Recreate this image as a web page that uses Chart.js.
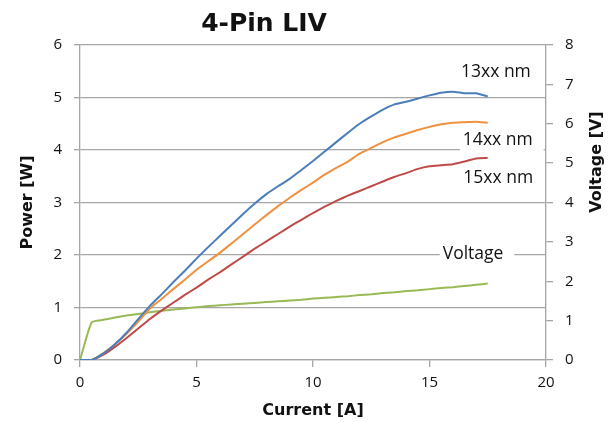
<!DOCTYPE html>
<html><head><meta charset="utf-8">
<script src="https://cdn.jsdelivr.net/npm/chart.js@4"></script>
<style>html,body{margin:0;padding:0;background:#fff}</style>
</head><body>
<canvas id="c" width="612" height="422"></canvas>
<script>
const chartTitle = '4-Pin LIV';
const xTitle = 'Current [A]';
const yTitle = 'Power [W]';
const y2Title = 'Voltage [V]';
const seriesNames = ['13xx nm', '14xx nm', '15xx nm', 'Voltage'];
const current = [0,0.5,1,1.5,2,2.5,3,3.5,4,4.5,5,5.5,6,6.5,7,7.5,8,8.5,9,9.5,10,10.5,11,11.5,12,12.5,13,13.5,14,14.5,15,15.5,16,16.5,17,17.5];
const power13xx = [0,0,0.12,0.3,0.52,0.78,1.03,1.25,1.48,1.7,1.93,2.15,2.36,2.57,2.78,2.98,3.16,3.31,3.45,3.62,3.79,3.97,4.15,4.33,4.5,4.64,4.77,4.87,4.92,4.98,5.04,5.09,5.11,5.08,5.08,5.02];
const power14xx = [0,0,0.13,0.3,0.5,0.73,0.98,1.16,1.35,1.53,1.72,1.88,2.04,2.22,2.4,2.58,2.76,2.93,3.09,3.24,3.38,3.53,3.66,3.78,3.93,4.04,4.15,4.24,4.31,4.38,4.44,4.49,4.52,4.53,4.54,4.52];
const power15xx = [0,0,0.1,0.25,0.42,0.6,0.78,0.94,1.09,1.24,1.38,1.53,1.67,1.82,1.97,2.12,2.26,2.4,2.54,2.67,2.8,2.92,3.03,3.13,3.22,3.31,3.4,3.49,3.56,3.64,3.69,3.71,3.73,3.78,3.84,3.85];
const voltage = [0,0.96,1.02,1.08,1.13,1.17,1.21,1.25,1.28,1.31,1.34,1.37,1.39,1.41,1.43,1.45,1.47,1.49,1.51,1.53,1.56,1.58,1.6,1.62,1.65,1.67,1.7,1.72,1.75,1.77,1.8,1.83,1.85,1.88,1.91,1.94];
const xRange = [0, 20];
const powerRange = [0, 6];
const voltageRange = [0, 8];

const colors = ['#4A7EBB', '#F0913F', '#BE4B48', '#98B954'];
const gridColor = '#a6a6a6';
const tickFont = {family: '"Open Sans", "Noto Sans", sans-serif', size: 15};
const boldFont = '"DejaVu Sans", sans-serif';

const pts = arr => arr.map((v, i) => ({x: current[i], y: v}));

const labelPlugin = {
  id: 'labels',
  afterDatasetsDraw(chart) {
    const ctx = chart.ctx;
    const xs = chart.scales.x, ys = chart.scales.y;
    ctx.save();
    const labelPos = [
      {x: 17.85, y: 5.49},
      {x: 17.93, y: 4.19},
      {x: 17.95, y: 3.47},
      {x: 16.87, y: 2.01}
    ];
    ctx.font = '17.5px "Open Sans", "Noto Sans", sans-serif';
    ctx.textAlign = 'center';
    ctx.textBaseline = 'middle';
    seriesNames.forEach((name, i) => {
      const px = xs.getPixelForValue(labelPos[i].x);
      const py = ys.getPixelForValue(labelPos[i].y);
      const w = ctx.measureText(name).width;
      ctx.fillStyle = '#fff';
      ctx.fillRect(px - w / 2 - 3, py - 11, w + 14, 22);
      ctx.fillStyle = '#111';
      ctx.fillText(name, px, py);
    });
    ctx.restore();
  },
  afterDraw(chart) {
    const ctx = chart.ctx;
    ctx.save();
    ctx.fillStyle = '#111';
    ctx.textAlign = 'center';
    ctx.textBaseline = 'middle';
    ctx.font = 'bold 25px ' + boldFont;
    ctx.fillText(chartTitle, 264, 24);
    ctx.translate(597, 162);
    ctx.rotate(-Math.PI / 2);
    ctx.font = 'bold 16px ' + boldFont;
    ctx.fillText(y2Title, 0, 0);
    ctx.restore();
  }
};

new Chart(document.getElementById('c'), {
  type: 'line',
  data: {
    datasets: [
      {label: seriesNames[0], data: pts(power13xx), yAxisID: 'y', borderColor: colors[0]},
      {label: seriesNames[1], data: pts(power14xx), yAxisID: 'y', borderColor: colors[1]},
      {label: seriesNames[2], data: pts(power15xx), yAxisID: 'y', borderColor: colors[2]},
      {label: seriesNames[3], data: pts(voltage), yAxisID: 'y2', borderColor: colors[3]}
    ]
  },
  options: {
    responsive: false,
    animation: false,
    devicePixelRatio: 1,
    layout: {padding: {top: 45, left: 0, right: 0, bottom: 0}},
    elements: {
      point: {radius: 0},
      line: {borderWidth: 2, tension: 0.15, fill: false}
    },
    plugins: {legend: {display: false}, title: {display: false}, tooltip: {enabled: false}},
    scales: {
      x: {
        type: 'linear', position: 'bottom', min: xRange[0], max: xRange[1],
        afterFit: s => { s.height = 62; },
        ticks: {stepSize: 5, color: '#111', font: tickFont, padding: 7, maxRotation: 0},
        grid: {drawOnChartArea: false, drawTicks: true, tickLength: 7, color: gridColor, lineWidth: 1.3},
        border: {display: true, color: gridColor, width: 1.3},
        title: {display: true, text: xTitle, color: '#111', font: {family: boldFont, size: 16, weight: 'bold'}, padding: {top: 0, bottom: 2}}
      },
      y: {
        type: 'linear', position: 'left', min: powerRange[0], max: powerRange[1],
        afterFit: s => { s.width = 80; },
        ticks: {stepSize: 1, color: '#111', font: tickFont, padding: 12},
        grid: {drawOnChartArea: true, drawTicks: true, tickLength: 6, color: gridColor, lineWidth: 1.3},
        border: {display: true, color: gridColor, width: 1.3},
        title: {display: true, text: yTitle, color: '#111', font: {family: boldFont, size: 16, weight: 'bold'}, padding: {top: 18, bottom: 0}}
      },
      y2: {
        type: 'linear', position: 'right', min: voltageRange[0], max: voltageRange[1],
        afterFit: s => { s.width = 66; },
        ticks: {stepSize: 1, color: '#111', font: tickFont, padding: 12},
        grid: {drawOnChartArea: false, drawTicks: true, tickLength: 7, color: gridColor, lineWidth: 1.3},
        border: {display: true, color: gridColor, width: 1.3}
      }
    }
  },
  plugins: [labelPlugin]
});
</script>
</body></html>
